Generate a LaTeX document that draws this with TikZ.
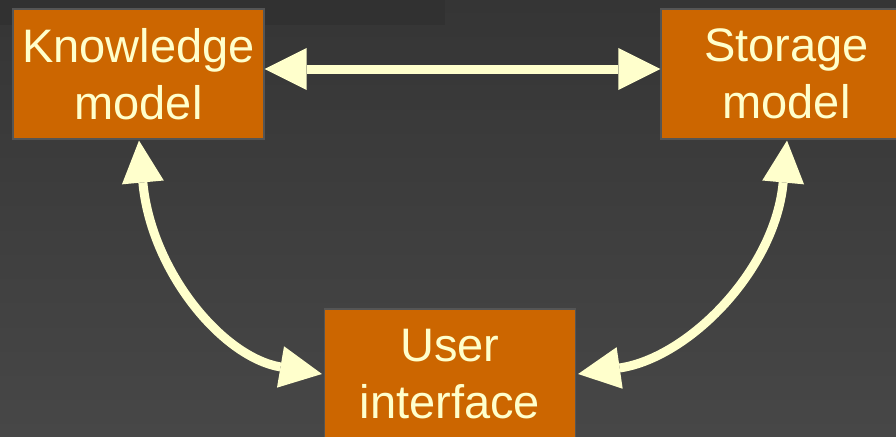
\documentclass[tikz,border=0pt]{standalone}
\usepackage{fontspec}
\setmainfont{Liberation Sans}
\usetikzlibrary{arrows.meta}
\definecolor{bgtop}{HTML}{353535}
\definecolor{bgbot}{HTML}{474747}
\definecolor{bgstrip}{HTML}{313131}
\definecolor{boxfill}{HTML}{CC6600}
\definecolor{boxline}{HTML}{555555}
\definecolor{cream}{HTML}{FFFFCC}
\tikzset{
  block/.style={draw=boxline, line width=1.2pt, fill=boxfill, text=cream,
    minimum width=251pt, minimum height=130pt, inner sep=0pt,
    align=center, font=\fontsize{47}{57}\selectfont},
  link/.style={draw=cream, line width=9pt, {Triangle[length=42pt,width=42pt,line width=0pt]}-{Triangle[length=42pt,width=42pt,line width=0pt]}}
}
\begin{document}
\begin{tikzpicture}[x=1pt,y=-1pt]
  % page background
  \useasboundingbox (0,0) rectangle (896,436);
  \clip (0,0) rectangle (896,436);
  \shade[top color=bgtop, bottom color=bgbot] (0,0) rectangle (896,436);
  \fill[bgstrip] (0,0) rectangle (445,25);

  % the three models
  \node[block] (know) at (138.5,74) {Knowledge\\model};
  \node[block] (stor) at (786.5,74) {Storage\\model};
  \node[block] (ui)   at (450,374)  {User\\interface};

  % two-way links between them
  \draw[link] ([yshift=5pt]know.east) -- ([yshift=5pt]stor.west);
  \draw[link] ([shift={(0.5pt,-1pt)}]know.south)
      .. controls +(12,130) and +(-100,-17) .. ([xshift=-2pt]ui.west);
  \draw[link] ([shift={(0.5pt,-1pt)}]stor.south)
      .. controls +(-12,130) and +(110,-16) .. ([xshift=2pt]ui.east);
\end{tikzpicture}
\end{document}
